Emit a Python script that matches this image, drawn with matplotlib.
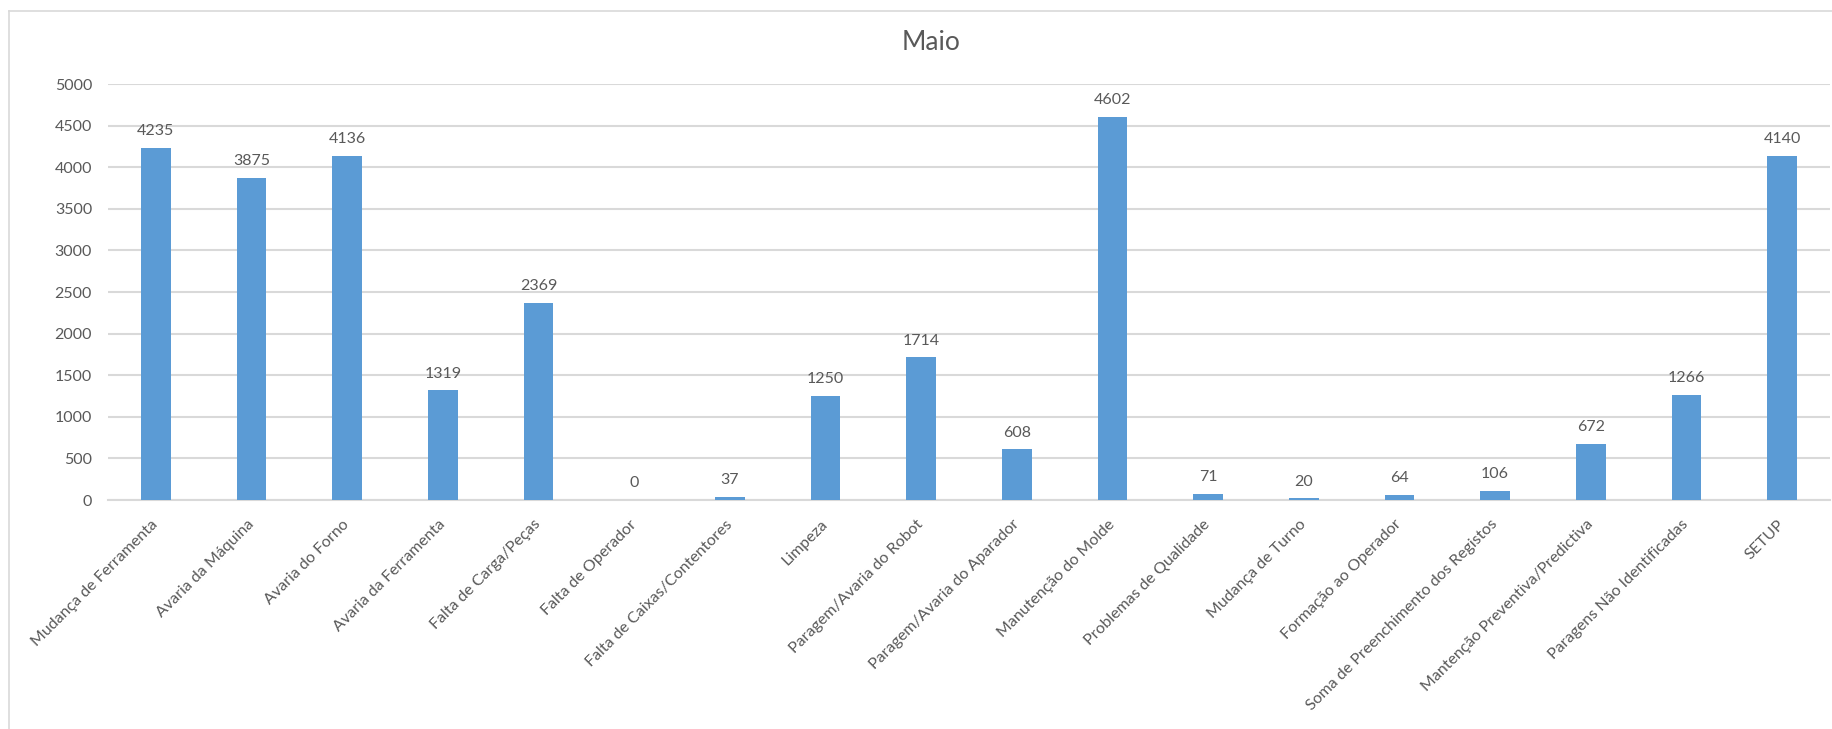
import matplotlib
matplotlib.use("Agg")
import matplotlib.pyplot as plt
from matplotlib.lines import Line2D

categories = [
    "Mudança de Ferramenta", "Avaria da Máquina", "Avaria do Forno",
    "Avaria da Ferramenta", "Falta de Carga/Peças", "Falta de Operador",
    "Falta de Caixas/Contentores", "Limpeza", "Paragem/Avaria do Robot",
    "Paragem/Avaria do Aparador", "Manutenção do Molde", "Problemas de Qualidade",
    "Mudança de Turno", "Formação ao Operador", "Soma de Preenchimento dos Registos",
    "Mantenção Preventiva/Predictiva", "Paragens Não Identificadas", "SETUP",
]
values = [4235, 3875, 4136, 1319, 2369, 0, 37, 1250, 1714, 608, 4602, 71, 20, 64, 106, 672, 1266, 4140]
yticks = [0, 500, 1000, 1500, 2000, 2500, 3000, 3500, 4000, 4500, 5000]
title = "Maio"

TEXT = "#595959"
GRID = "#d9d9d9"
BAR = "#5b9bd5"
plt.rcParams["font.family"] = ["Lato", "DejaVu Sans"]

W, H = 1832, 729
fig = plt.figure(figsize=(W / 100, H / 100), dpi=100)
ax = fig.add_axes([108 / W, 1 - 500 / H, (1830 - 108) / W, (500 - 84) / H])

x = list(range(len(categories)))
ax.bar(x, values, width=0.31, color=BAR, zorder=3)
for xi, v in zip(x, values):
    ax.annotate(str(v), (xi, v), xytext=(0, 7), textcoords="offset points",
                ha="center", va="bottom", fontsize=11.5, color=TEXT)

ax.set_xlim(-0.5, len(categories) - 0.5)
ax.set_ylim(0, 5000)
ax.set_yticks(yticks)
ax.set_xticks(x)
ax.set_xticklabels(categories, rotation=45, ha="right", va="center",
                   rotation_mode="anchor", fontsize=11.5, color=TEXT)
ax.tick_params(axis="x", length=0, pad=16)
ax.tick_params(axis="y", length=0, pad=11.5, labelsize=11.5, labelcolor=TEXT)

ax.grid(axis="y", color=GRID, linewidth=1.5, zorder=0)
for s in ["top", "right", "left"]:
    ax.spines[s].set_visible(False)
ax.spines["bottom"].set_color(GRID)
ax.spines["bottom"].set_linewidth(1.5)

fig.text(931 / W, 1 - 43 / H, title, ha="center", va="center",
         fontsize=19, color=TEXT)

# chart frame (top and left edges)
fig.add_artist(Line2D([8.5 / W, 1.0], [1 - 10.7 / H, 1 - 10.7 / H],
                      transform=fig.transFigure, color=GRID, linewidth=1.2))
fig.add_artist(Line2D([8.5 / W, 8.5 / W], [0, 1 - 10.7 / H],
                      transform=fig.transFigure, color=GRID, linewidth=1.2))

fig.savefig("out.png", dpi=100, facecolor="white")
